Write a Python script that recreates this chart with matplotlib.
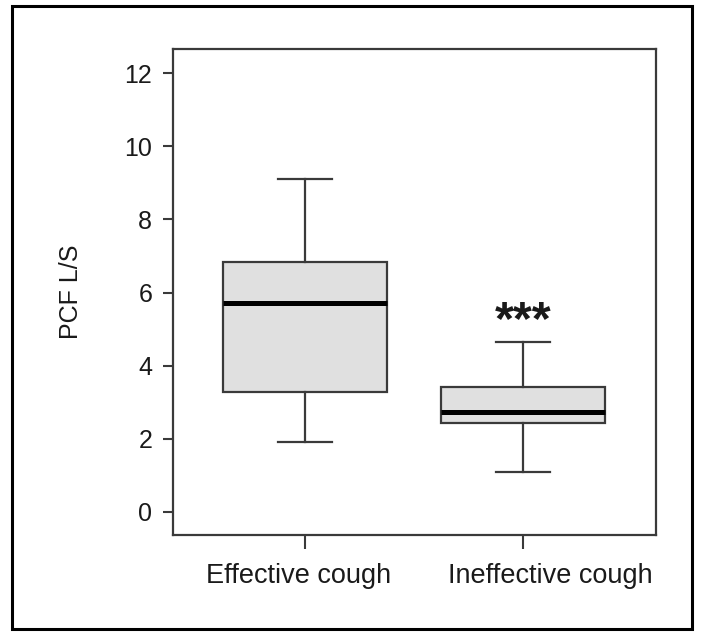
import matplotlib
matplotlib.use("Agg")
import matplotlib.pyplot as plt
from matplotlib.patches import Rectangle

plt.rcParams['font.family'] = ['Liberation Sans', 'DejaVu Sans']

# data
groups = ["Effective cough", "Ineffective cough"]
whislo = [1.92, 1.10]
q1 = [3.29, 2.43]
med = [5.71, 2.73]
q3 = [6.83, 3.41]
whishi = [9.11, 4.64]
sig_text = "***"
sig_y = 5.22
yticks = [0, 2, 4, 6, 8, 10, 12]

stats = []
for i, g in enumerate(groups):
    stats.append(dict(label=g, whislo=whislo[i], q1=q1[i], med=med[i],
                      q3=q3[i], whishi=whishi[i], fliers=[]))

fig = plt.figure(figsize=(7.04, 6.32), dpi=100)
ax = fig.add_axes([173/704, 97/632, 483/704, 486/632])

edge = '#3a3a3a'
ax.bxp(stats, positions=[1, 2], widths=0.75, patch_artist=True,
       showfliers=False, capwidths=0.25,
       boxprops=dict(facecolor='#e0e0e0', edgecolor=edge, linewidth=1.6),
       medianprops=dict(color='black', linewidth=3.6, solid_capstyle='butt'),
       whiskerprops=dict(color=edge, linewidth=1.6),
       capprops=dict(color=edge, linewidth=1.6))

ax.text(2, sig_y, sig_text, ha='center', va='center', fontsize=35,
        fontweight='bold', color='#1a1a1a')

ax.set_xlim(0.394, 2.61)
ax.set_ylim(-0.63, 12.66)
ax.set_yticks(yticks)
ax.set_yticklabels([str(v) for v in yticks], fontsize=18, color='#1a1a1a')
ax.set_xticks([1, 2])
ax.set_xticklabels([])
ax.tick_params(axis='y', direction='out', length=7, width=1.5, color=edge, pad=8)
ax.tick_params(axis='x', direction='out', length=10, width=1.5, color=edge)

# category labels (sit slightly off the ticks in the original)
for xpos, g in zip([0.968, 2.124], groups):
    ax.text(xpos, -0.058, g, transform=ax.get_xaxis_transform(),
            ha='center', va='top', fontsize=19.5, color='#1a1a1a')

ax.set_ylabel("PCF L/S", fontsize=18, color='#1a1a1a', labelpad=30)
for s in ax.spines.values():
    s.set_color(edge)
    s.set_linewidth(1.6)

# outer frame round the whole picture
fig.patches.append(Rectangle((12/704, 3/632), 680/704, 623/632,
                             transform=fig.transFigure, fill=False,
                             edgecolor='black', linewidth=2.2))

fig.savefig("out.png", dpi=100)
